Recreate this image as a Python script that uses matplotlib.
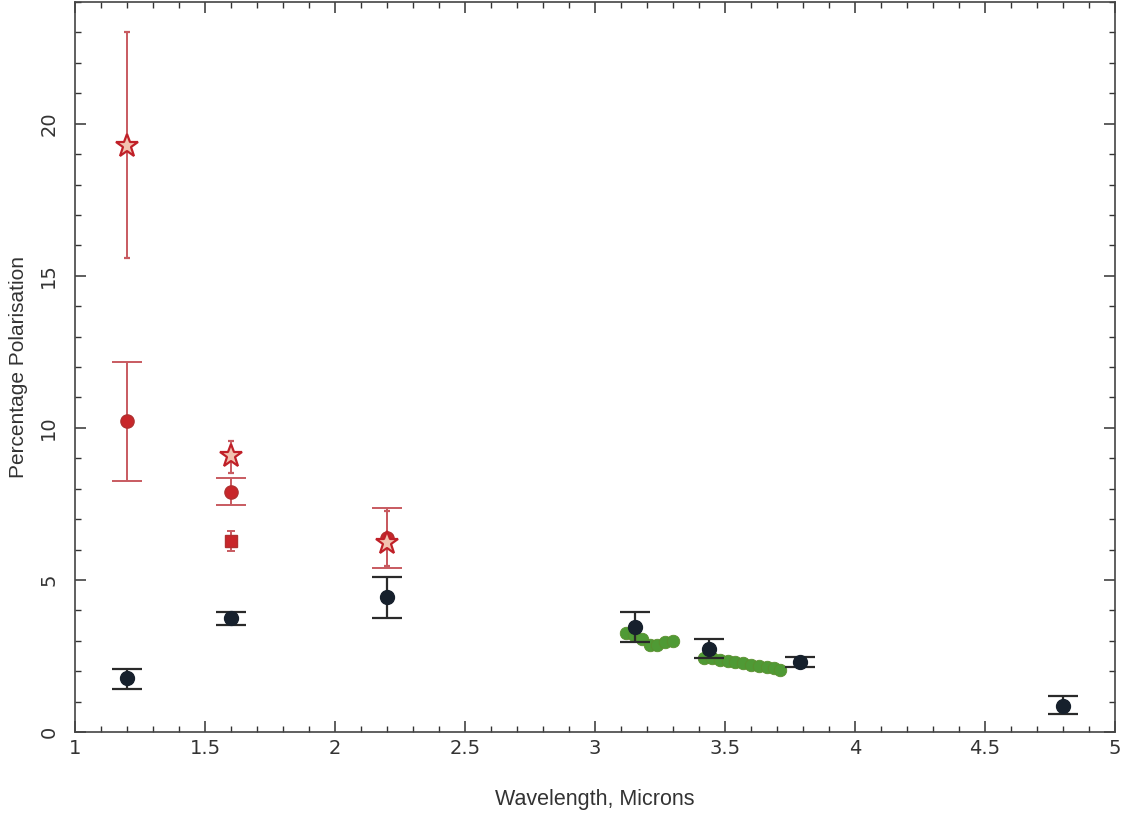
import matplotlib
matplotlib.use("Agg")
import matplotlib.pyplot as plt
from matplotlib.ticker import MultipleLocator, FormatStrFormatter

# black points (broad band measurements)
black_x = [1.2, 1.6, 2.2, 3.155, 3.44, 3.79, 4.8]
black_y = [1.77, 3.74, 4.43, 3.46, 2.73, 2.31, 0.87]
black_lo = [0.36, 0.23, 0.67, 0.51, 0.31, 0.18, 0.28]
black_hi = [0.30, 0.20, 0.68, 0.50, 0.32, 0.17, 0.31]

# red filled circles
red_x = [1.2, 1.6, 2.2]
red_y = [10.23, 7.90, 6.38]
red_lo = [1.97, 0.43, 0.98]
red_hi = [1.95, 0.44, 1.00]

# red square
sq_x = [1.6]
sq_y = [6.29]
sq_err = [0.33]

# red stars
star_x = [1.2, 1.6, 2.2]
star_y = [19.28, 9.09, 6.22]
star_lo = [3.68, 0.56, 0.75]
star_hi = [3.72, 0.48, 1.05]

# green spectro-polarimetry points
green1_x = [3.12, 3.15, 3.18, 3.21, 3.24, 3.27, 3.30]
green1_y = [3.25, 3.20, 3.05, 2.85, 2.85, 2.95, 3.00]
green2_x = [3.42, 3.45, 3.48, 3.51, 3.54, 3.57, 3.60, 3.63, 3.66, 3.69, 3.71]
green2_y = [2.45, 2.43, 2.38, 2.34, 2.30, 2.26, 2.21, 2.17, 2.13, 2.09, 2.04]

red = "#c8262a"
red_bar = "#c85a60"
dark = "#16202c"
green = "#4f9a35"

fig = plt.figure(figsize=(11.38, 8.15), dpi=100)
ax = fig.add_axes([0.0659, 0.1018, 0.914, 0.8957])

# green bands with faint horizontal error bars
for gx, gy in [(green1_x, green1_y), (green2_x, green2_y)]:
    ax.errorbar(gx, gy, xerr=0.015, fmt="o", color=green, ecolor="#c8d86a",
                elinewidth=1.2, markersize=9, markeredgecolor="#5a8f2e",
                markeredgewidth=0.6, zorder=3)

ax.errorbar(black_x, black_y, yerr=[black_lo, black_hi], fmt="o", color=dark,
            ecolor="#2a2a2a", elinewidth=1.6, capsize=11, capthick=1.6,
            markersize=10, zorder=4)

ax.errorbar(red_x, red_y, yerr=[red_lo, red_hi], fmt="o", color=red,
            ecolor=red_bar, elinewidth=1.4, capsize=11, capthick=1.4,
            markersize=9.5, markeredgecolor="#b03030", zorder=4)

ax.errorbar(sq_x, sq_y, yerr=sq_err, fmt="s", color=red, ecolor=red_bar,
            elinewidth=1.4, capsize=3, capthick=1.4, markersize=9,
            markeredgecolor="#b03030", zorder=4)

ax.errorbar(star_x, star_y, yerr=[star_lo, star_hi], fmt="*", color=red,
            markerfacecolor="#f2c2b0", markeredgecolor="#c02028",
            markeredgewidth=1.6, ecolor=red_bar, elinewidth=1.4, capsize=2.5,
            capthick=1.2, markersize=17, zorder=5)

ax.set_xlim(1, 5)
ax.set_ylim(0, 24)
ax.xaxis.set_major_locator(MultipleLocator(0.5))
ax.xaxis.set_minor_locator(MultipleLocator(0.1))
ax.xaxis.set_major_formatter(FormatStrFormatter("%g"))
ax.yaxis.set_major_locator(MultipleLocator(5))
ax.yaxis.set_minor_locator(MultipleLocator(1))
ax.tick_params(which="both", direction="in", top=True, right=True,
               colors="#333333", labelsize=14, labelcolor="#333333")
ax.tick_params(which="major", length=8, width=1.1)
ax.tick_params(which="minor", length=4, width=1.0)
ax.tick_params(axis="x", which="major", pad=5)
ax.tick_params(axis="y", which="major", pad=12, rotation=90)
for lbl in ax.get_yticklabels():
    lbl.set_va("center")
for sp in ax.spines.values():
    sp.set_color("#444444")
    sp.set_linewidth(1.2)

ax.set_xlabel("Wavelength, Microns", fontsize=15.5, color="#333333", labelpad=22,
              family="Liberation Sans")
ax.set_ylabel("Percentage Polarisation", fontsize=15, color="#333333", labelpad=8,
              family="Liberation Sans")

fig.savefig("out.png", dpi=100)
